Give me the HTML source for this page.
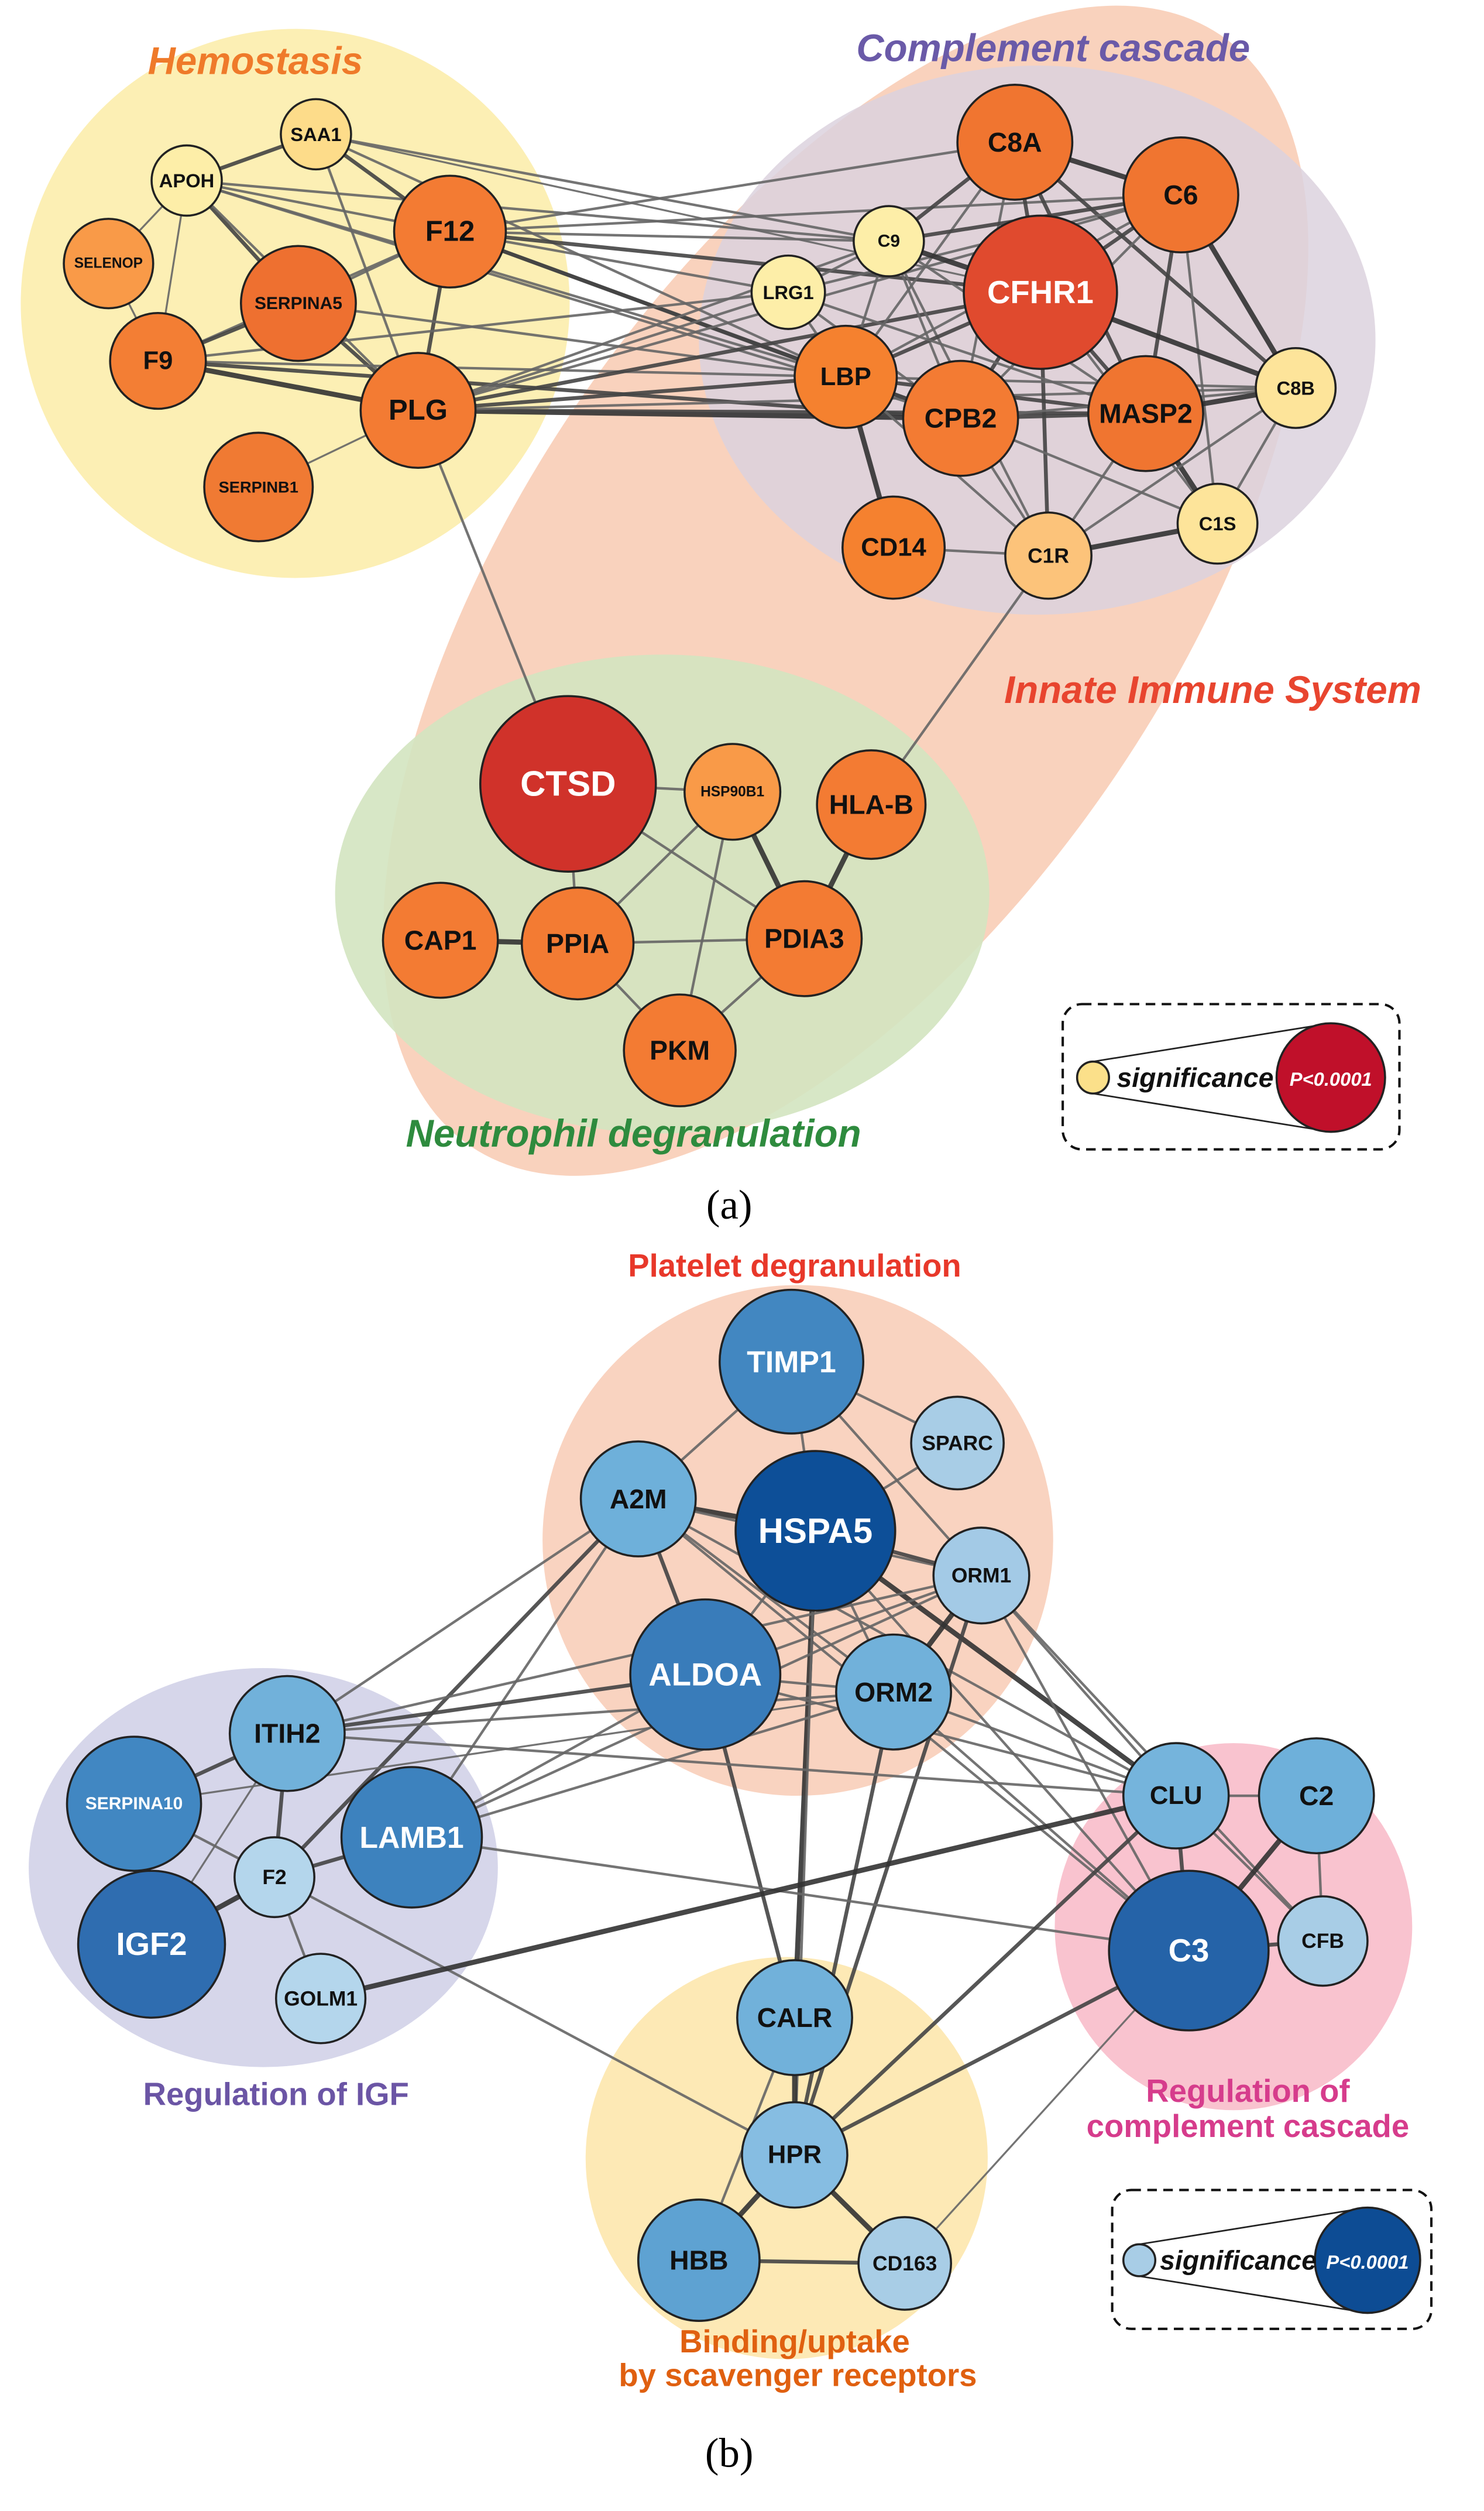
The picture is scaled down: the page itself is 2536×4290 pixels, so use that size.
<!DOCTYPE html>
<html><head><meta charset="utf-8">
<style>
html,body{margin:0;padding:0;background:#fff;}
svg{display:block;}
text{font-family:"Liberation Sans",Arial,sans-serif;font-weight:bold;text-anchor:middle;dominant-baseline:central;}
</style></head>
<body>
<svg id="s" width="2536" height="4290" viewBox="0 0 930 1573" xmlns="http://www.w3.org/2000/svg">
<!-- (a) backgrounds -->
<ellipse cx="530" cy="370" rx="420" ry="205" transform="rotate(-56 530 370)" fill="#f8cdb6" opacity="0.9"/>
<circle cx="185" cy="190" r="172" fill="#fcefb4"/>
<ellipse cx="650" cy="213" rx="212" ry="172" fill="#dcd2de" opacity="0.85"/>
<ellipse cx="415" cy="560" rx="205" ry="150" fill="#d3e4c0" opacity="0.9"/>
<!-- (b) backgrounds -->
<circle cx="500" cy="965" r="160" fill="#f9d3c0"/>
<ellipse cx="165" cy="1170" rx="147" ry="125" fill="#d6d6ea"/>
<ellipse cx="773" cy="1207" rx="112" ry="115" fill="#f9c3cf"/>
<circle cx="493" cy="1352" r="126" fill="#fde9b5"/>
<g id="edges"></g>
<g id="nodes" stroke="#222" stroke-width="1.3"></g>

<!-- labels a -->
<g font-style="italic">
<text x="160" y="38" font-size="24" fill="#ef7a2a">Hemostasis</text>
<text x="660" y="30" font-size="24" fill="#6a5aa8">Complement cascade</text>
<text x="760" y="432" font-size="24" fill="#e8452f">Innate Immune System</text>
<text x="397" y="710" font-size="24" fill="#2e8b3e">Neutrophil degranulation</text>
</g>
<text x="457" y="755" font-size="26" fill="#000" style="font-family:'Liberation Serif',serif;font-weight:normal">(a)</text>
<!-- legend a -->
<rect x="666" y="629" width="211" height="91" rx="12" fill="none" stroke="#111" stroke-width="1.5" stroke-dasharray="6 4"/>
<line x1="685" y1="665" x2="834" y2="641" stroke="#222"/>
<line x1="685" y1="685" x2="834" y2="709" stroke="#222"/>
<circle cx="685" cy="675" r="10" fill="#fbe08a" stroke="#222" stroke-width="1.3"/>
<circle cx="834" cy="675" r="34" fill="#c0102a" stroke="#222" stroke-width="1.3"/>
<text x="749" y="675" font-size="17" font-style="italic" fill="#111">significance</text>
<text x="834" y="676" font-size="12" font-style="italic" fill="#fff">P&lt;0.0001</text>

<!-- labels b -->
<text x="498" y="793" font-size="20" fill="#e8382a">Platelet degranulation</text>
<text x="173" y="1312" font-size="20" fill="#6b55a5">Regulation of IGF</text>
<text x="782" y="1310" font-size="20" fill="#d63c8c">Regulation of</text>
<text x="782" y="1332" font-size="20" fill="#d63c8c">complement cascade</text>
<text x="498" y="1467" font-size="20" fill="#e06010">Binding/uptake</text>
<text x="500" y="1488" font-size="20" fill="#e06010">by scavenger receptors</text>
<text x="457" y="1537" font-size="26" fill="#000" style="font-family:'Liberation Serif',serif;font-weight:normal">(b)</text>
<!-- legend b -->
<rect x="697" y="1372" width="200" height="87" rx="12" fill="none" stroke="#111" stroke-width="1.5" stroke-dasharray="6 4"/>
<line x1="714" y1="1406" x2="857" y2="1383" stroke="#222"/>
<line x1="714" y1="1426" x2="857" y2="1449" stroke="#222"/>
<circle cx="714" cy="1416" r="10" fill="#a8cde6" stroke="#222" stroke-width="1.3"/>
<circle cx="857" cy="1416" r="33" fill="#0d4c94" stroke="#222" stroke-width="1.3"/>
<text x="776" y="1416" font-size="17" font-style="italic" fill="#111">significance</text>
<text x="857" y="1417" font-size="12" font-style="italic" fill="#fff">P&lt;0.0001</text>

<!-- nodes (a) -->
<g stroke="#222" stroke-width="1.3">
<circle cx="198" cy="84" r="22" fill="#fddc8a"/>
<circle cx="117" cy="113" r="22" fill="#fdeea8"/>
<circle cx="68" cy="165" r="28" fill="#f99a48"/>
<circle cx="282" cy="145" r="35" fill="#f37b33"/>
<circle cx="187" cy="190" r="36" fill="#ee7030"/>
<circle cx="99" cy="226" r="30" fill="#f37e34"/>
<circle cx="262" cy="257" r="36" fill="#f37b33"/>
<circle cx="162" cy="305" r="34" fill="#f07a33"/>
<circle cx="636" cy="89" r="36" fill="#f07530"/>
<circle cx="740" cy="122" r="36" fill="#f07530"/>
<circle cx="557" cy="151" r="22" fill="#fdeea8"/>
<circle cx="652" cy="183" r="48" fill="#e04a2e"/>
<circle cx="494" cy="183" r="23" fill="#fdeea8"/>
<circle cx="530" cy="236" r="32" fill="#f5812f"/>
<circle cx="602" cy="262" r="36" fill="#f37b33"/>
<circle cx="718" cy="259" r="36" fill="#f07530"/>
<circle cx="812" cy="243" r="25" fill="#fde49a"/>
<circle cx="763" cy="328" r="25" fill="#fde49a"/>
<circle cx="657" cy="348" r="27" fill="#fcc37a"/>
<circle cx="560" cy="343" r="32" fill="#f5812f"/>
<circle cx="356" cy="491" r="55" fill="#d0322a"/>
<circle cx="459" cy="496" r="30" fill="#f99a48"/>
<circle cx="546" cy="504" r="34" fill="#f37b33"/>
<circle cx="276" cy="589" r="36" fill="#f37b33"/>
<circle cx="362" cy="591" r="35" fill="#f37b33"/>
<circle cx="504" cy="588" r="36" fill="#f37b33"/>
<circle cx="426" cy="658" r="35" fill="#f37b33"/>
</g>
<g fill="#111">
<text x="198" y="84" font-size="12">SAA1</text>
<text x="117" y="113" font-size="12">APOH</text>
<text x="68" y="165" font-size="9">SELENOP</text>
<text x="282" y="145" font-size="18">F12</text>
<text x="187" y="190" font-size="11">SERPINA5</text>
<text x="99" y="226" font-size="16">F9</text>
<text x="262" y="257" font-size="18">PLG</text>
<text x="162" y="305" font-size="10">SERPINB1</text>
<text x="636" y="89" font-size="17">C8A</text>
<text x="740" y="122" font-size="17">C6</text>
<text x="557" y="151" font-size="11">C9</text>
<text x="652" y="183" font-size="20" fill="#fff">CFHR1</text>
<text x="494" y="183" font-size="12">LRG1</text>
<text x="530" y="236" font-size="16">LBP</text>
<text x="602" y="262" font-size="17">CPB2</text>
<text x="718" y="259" font-size="17">MASP2</text>
<text x="812" y="243" font-size="12">C8B</text>
<text x="763" y="328" font-size="12">C1S</text>
<text x="657" y="348" font-size="13">C1R</text>
<text x="560" y="343" font-size="16">CD14</text>
<text x="356" y="491" font-size="22" fill="#fff">CTSD</text>
<text x="459" y="496" font-size="9">HSP90B1</text>
<text x="546" y="504" font-size="17">HLA-B</text>
<text x="276" y="589" font-size="17">CAP1</text>
<text x="362" y="591" font-size="17">PPIA</text>
<text x="504" y="588" font-size="17">PDIA3</text>
<text x="426" y="658" font-size="17">PKM</text>
</g>

<!-- nodes (b) -->
<g stroke="#222" stroke-width="1.3">
<circle cx="496" cy="853" r="45" fill="#4287c1"/>
<circle cx="600" cy="904" r="29" fill="#a8cde6"/>
<circle cx="400" cy="939" r="36" fill="#6eb0da"/>
<circle cx="511" cy="959" r="50" fill="#0d4f98"/>
<circle cx="615" cy="987" r="30" fill="#a3cae6"/>
<circle cx="442" cy="1049" r="47" fill="#397cba"/>
<circle cx="560" cy="1060" r="36" fill="#71b1da"/>
<circle cx="180" cy="1086" r="36" fill="#71b1da"/>
<circle cx="84" cy="1130" r="42" fill="#4187c2"/>
<circle cx="258" cy="1151" r="44" fill="#3d82be"/>
<circle cx="172" cy="1176" r="25" fill="#b4d6ec"/>
<circle cx="95" cy="1218" r="46" fill="#2f6db0"/>
<circle cx="201" cy="1252" r="28" fill="#b4d6ec"/>
<circle cx="737" cy="1125" r="33" fill="#75b4dc"/>
<circle cx="825" cy="1125" r="36" fill="#6eb0da"/>
<circle cx="745" cy="1222" r="50" fill="#2563a8"/>
<circle cx="829" cy="1216" r="28" fill="#a8cde6"/>
<circle cx="498" cy="1264" r="36" fill="#71b1da"/>
<circle cx="498" cy="1350" r="33" fill="#86bde2"/>
<circle cx="438" cy="1416" r="38" fill="#5ea2d2"/>
<circle cx="567" cy="1418" r="29" fill="#a8cde6"/>
</g>
<g fill="#111">
<text x="496" y="853" font-size="19" fill="#fff">TIMP1</text>
<text x="600" y="904" font-size="13">SPARC</text>
<text x="400" y="939" font-size="17">A2M</text>
<text x="511" y="959" font-size="22" fill="#fff">HSPA5</text>
<text x="615" y="987" font-size="13">ORM1</text>
<text x="442" y="1049" font-size="20" fill="#fff">ALDOA</text>
<text x="560" y="1060" font-size="17">ORM2</text>
<text x="180" y="1086" font-size="17">ITIH2</text>
<text x="84" y="1130" font-size="11" fill="#fff">SERPINA10</text>
<text x="258" y="1151" font-size="19" fill="#fff">LAMB1</text>
<text x="172" y="1176" font-size="13">F2</text>
<text x="95" y="1218" font-size="20" fill="#fff">IGF2</text>
<text x="201" y="1252" font-size="13">GOLM1</text>
<text x="737" y="1125" font-size="16">CLU</text>
<text x="825" y="1125" font-size="17">C2</text>
<text x="745" y="1222" font-size="20" fill="#fff">C3</text>
<text x="829" y="1216" font-size="13">CFB</text>
<text x="498" y="1264" font-size="17">CALR</text>
<text x="498" y="1350" font-size="16">HPR</text>
<text x="438" y="1416" font-size="17">HBB</text>
<text x="567" y="1418" font-size="13">CD163</text>
</g>
</svg>
<script>
var P={SAA1:[198,84],APOH:[117,113],SELENOP:[68,165],F12:[282,145],SERPINA5:[187,190],F9:[99,226],PLG:[262,257],SERPINB1:[162,305],C8A:[636,89],C6:[740,122],C9:[557,151],CFHR1:[652,183],LRG1:[494,183],LBP:[530,236],CPB2:[602,262],MASP2:[718,259],C8B:[812,243],C1S:[763,328],C1R:[657,348],CD14:[560,343],CTSD:[356,491],HSP90B1:[459,496],HLAB:[546,504],CAP1:[276,589],PPIA:[362,591],PDIA3:[504,588],PKM:[426,658],
TIMP1:[496,853],SPARC:[600,904],A2M:[400,939],HSPA5:[511,959],ORM1:[615,987],ALDOA:[442,1049],ORM2:[560,1060],ITIH2:[180,1086],SERPINA10:[84,1130],LAMB1:[258,1151],F2:[172,1176],IGF2:[95,1218],GOLM1:[201,1252],CLU:[737,1125],C2:[825,1125],C3:[745,1222],CFB:[829,1216],CALR:[498,1264],HPR:[498,1350],HBB:[438,1416],CD163:[567,1418]};
var E="APOH-SAA1-3 APOH-SELENOP-1.5 APOH-F12-2 APOH-SERPINA5-3 APOH-PLG-2 APOH-F9-1.5 APOH-C9-2 APOH-LBP-2 APOH-CPB2-2 SAA1-F12-3 SAA1-C9-2 SAA1-LBP-2 SAA1-PLG-2 SAA1-CFHR1-1.5 F12-SERPINA5-2 F12-PLG-3 F12-F9-2 F12-C9-2 F12-C8A-2 F12-C6-2 F12-CFHR1-3 F12-LRG1-2 F12-LBP-3 F12-CPB2-3 SERPINA5-F9-3 SERPINA5-PLG-3 SERPINA5-LBP-2 F9-PLG-4 F9-LBP-2 F9-CPB2-3 F9-LRG1-2 PLG-SERPINB1-1.5 PLG-LBP-3 PLG-CPB2-4 PLG-MASP2-3 PLG-C8B-2 PLG-C9-2 PLG-LRG1-2 PLG-CFHR1-3 PLG-C6-2 PLG-CTSD-2 SELENOP-F9-1.5 C8A-C6-4 C8A-C9-3 C8A-CFHR1-3 C8A-LBP-2 C8A-CPB2-2 C8A-MASP2-3 C8A-C8B-3 C6-CFHR1-3 C6-C9-3 C6-MASP2-3 C6-C8B-4 C6-CPB2-2 C6-LBP-2 C6-C1S-2 C6-LRG1-2 C9-CFHR1-4 C9-LRG1-2 C9-LBP-2 C9-CPB2-2 C9-MASP2-2 C9-C1R-2 CFHR1-LBP-3 CFHR1-CPB2-3 CFHR1-MASP2-3 CFHR1-C8B-4 CFHR1-C1R-3 CFHR1-C1S-2 LRG1-LBP-2 LRG1-CPB2-2 LRG1-MASP2-2 LBP-CPB2-3 LBP-CD14-4 LBP-C1R-2 LBP-MASP2-3 LBP-C8B-2 CPB2-MASP2-3 CPB2-C8B-2 CPB2-C1R-2 CPB2-C1S-2 MASP2-C8B-4 MASP2-C1R-2 MASP2-C1S-4 C8B-C1S-2 C8B-C1R-2 C1R-C1S-4 CD14-C1R-2 C1R-HLAB-2 CTSD-HSP90B1-2 CTSD-PPIA-2 CTSD-PDIA3-2 HSP90B1-PPIA-2 HSP90B1-PDIA3-4 HSP90B1-PKM-2 HLAB-PDIA3-4 CAP1-PPIA-4 PPIA-PDIA3-2 PPIA-PKM-2 PDIA3-PKM-2 "+
"TIMP1-SPARC-2 TIMP1-HSPA5-2 TIMP1-A2M-2 TIMP1-ORM1-2 A2M-HSPA5-4 A2M-ALDOA-3 A2M-ORM2-2 A2M-ORM1-2 A2M-CLU-2 A2M-ITIH2-2 A2M-F2-3 A2M-LAMB1-2 A2M-C3-2 HSPA5-ALDOA-2 HSPA5-ORM1-3 HSPA5-ORM2-2 HSPA5-CALR-4 HSPA5-HPR-2 HSPA5-CLU-4 HSPA5-SPARC-2 HSPA5-C3-2 ORM1-ALDOA-2 ORM1-ORM2-4 ORM1-CLU-2 ORM1-C3-2 ORM1-HPR-3 ORM1-ITIH2-2 ORM1-CFB-2 ORM1-LAMB1-2 ALDOA-ORM2-2 ALDOA-ITIH2-3 ALDOA-LAMB1-2 ALDOA-CALR-3 ALDOA-CLU-2 ORM2-ITIH2-2 ORM2-CLU-2 ORM2-HPR-3 ORM2-LAMB1-2 ORM2-C3-2 ITIH2-SERPINA10-3 ITIH2-F2-3 ITIH2-CLU-2 ITIH2-IGF2-1.5 SERPINA10-F2-2 SERPINA10-IGF2-2 SERPINA10-ORM2-1.5 F2-IGF2-4 F2-LAMB1-3 F2-GOLM1-2 F2-HPR-2 LAMB1-C3-2 GOLM1-CLU-4 CLU-C2-2 CLU-C3-3 CLU-CFB-2 C2-C3-4 C2-CFB-2 C3-CFB-3 C3-HPR-3 CLU-HPR-3 CALR-HPR-4 HPR-HBB-4 HPR-CD163-4 HBB-CD163-3 CALR-HBB-2 C3-CD163-1.5";
var g=document.getElementById("edges"),h="";
E.split(" ").forEach(function(s){var p=s.split("-");if(p.length<3)return;var a=P[p[0]],b=P[p[1]],w=+p[2];if(!a||!b)return;
var c=w>=4?"#333":(w>=3?"#444":"#666");
h+='<line x1="'+a[0]+'" y1="'+a[1]+'" x2="'+b[0]+'" y2="'+b[1]+'" stroke="'+c+'" stroke-width="'+(w*0.8)+'" opacity="0.9"/>';});
g.innerHTML=h;
</script>
</body></html>
